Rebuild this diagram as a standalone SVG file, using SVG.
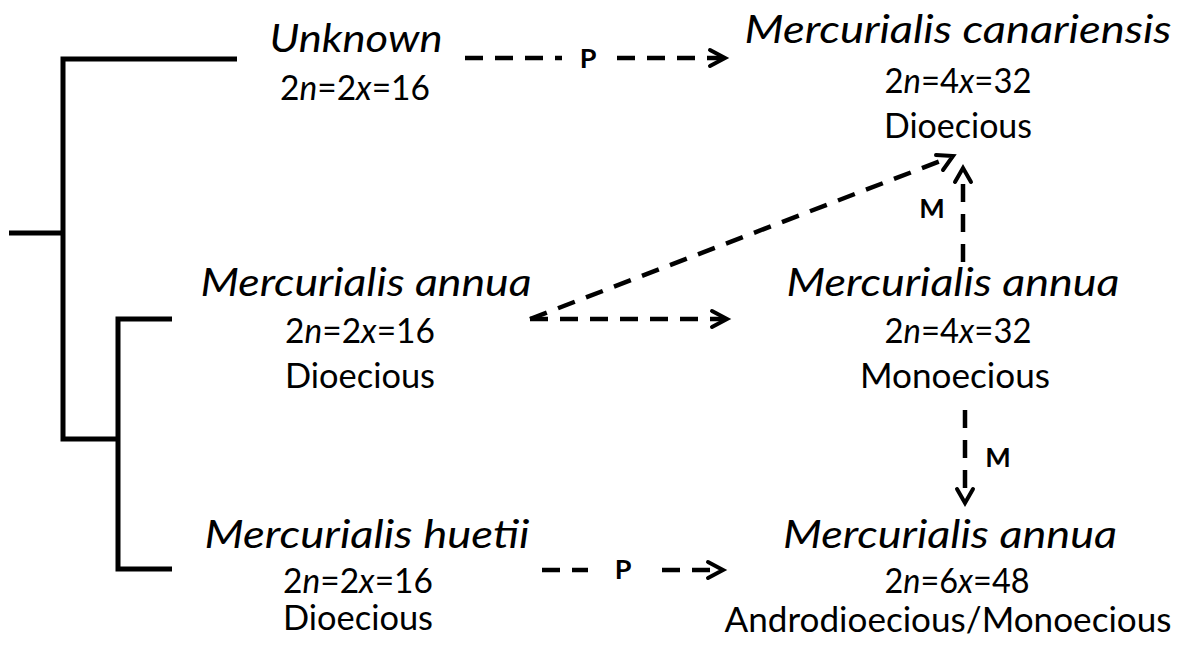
<svg xmlns="http://www.w3.org/2000/svg" width="1181" height="647" viewBox="0 0 1181 647">
<style>
.tree{fill:none;stroke:#000;stroke-width:5;stroke-linecap:butt;stroke-linejoin:miter}
.dash{fill:none;stroke:#000;stroke-width:4.5;stroke-dasharray:18 12}
.head{fill:none;stroke:#000;stroke-width:4;stroke-linecap:round;stroke-linejoin:miter}
text{font-family:Lato,"Liberation Sans",sans-serif;fill:#000;text-anchor:middle}
.sp{font-style:italic;font-size:38px}
.info{font-size:34px}
.lab{font-weight:bold;font-size:27px}
</style>
<rect width="1181" height="647" fill="#fff"/>
<g id="tree">
<path class="tree" d="M9 233H63M237 59H63V439H118M172 319H118V569H172"/>
</g>
<g id="connectors">
<path class="dash" d="M465 58H562"/>
<path class="dash" d="M617 58H723"/>
<path class="head" d="M710 50L725 58L710 66"/>
<text class="lab" x="588" y="68">P</text>
<path class="dash" d="M542 570H588"/>
<path class="dash" d="M662 570H721"/>
<path class="head" d="M708 562L723 570L708 578"/>
<text class="lab" x="623" y="579">P</text>
<path class="dash" d="M530 319H725"/>
<path class="head" d="M712 311L727 319L712 327"/>
<path class="dash" d="M530 319L951 157"/>
<path class="head" d="M936 155L953 156L943 170"/>
<path class="dash" d="M963 262V170"/>
<path class="head" d="M955 182L963 168L971 182"/>
<text class="lab" x="932" y="218">M</text>
<path class="dash" d="M965 410V501"/>
<path class="head" d="M957 489L965 503L973 489"/>
<text class="lab" x="998" y="467">M</text>
</g>
<g id="unknown">
<text class="sp" x="356" y="52" textLength="173" lengthAdjust="spacingAndGlyphs">Unknown</text>
<text class="info" x="355" y="100" textLength="150" lengthAdjust="spacingAndGlyphs">2<tspan font-style="italic">n</tspan>=2<tspan font-style="italic">x</tspan>=16</text>
</g>
<g id="annua-2x">
<text class="sp" x="366" y="296" textLength="331" lengthAdjust="spacingAndGlyphs">Mercurialis annua</text>
<text class="info" x="360" y="343" textLength="150" lengthAdjust="spacingAndGlyphs">2<tspan font-style="italic">n</tspan>=2<tspan font-style="italic">x</tspan>=16</text>
<text class="info" x="360" y="388" textLength="150" lengthAdjust="spacingAndGlyphs">Dioecious</text>
</g>
<g id="huetii">
<text class="sp" x="367" y="548" textLength="325" lengthAdjust="spacingAndGlyphs">Mercurialis huetii</text>
<text class="info" x="358" y="593" textLength="150" lengthAdjust="spacingAndGlyphs">2<tspan font-style="italic">n</tspan>=2<tspan font-style="italic">x</tspan>=16</text>
<text class="info" x="358" y="630" textLength="150" lengthAdjust="spacingAndGlyphs">Dioecious</text>
</g>
<g id="canariensis">
<text class="sp" x="958" y="43" textLength="427" lengthAdjust="spacingAndGlyphs">Mercurialis canariensis</text>
<text class="info" x="958" y="93" textLength="147" lengthAdjust="spacingAndGlyphs">2<tspan font-style="italic">n</tspan>=4<tspan font-style="italic">x</tspan>=32</text>
<text class="info" x="958" y="138" textLength="148" lengthAdjust="spacingAndGlyphs">Dioecious</text>
</g>
<g id="annua-4x">
<text class="sp" x="953" y="296" textLength="333" lengthAdjust="spacingAndGlyphs">Mercurialis annua</text>
<text class="info" x="958" y="343" textLength="147" lengthAdjust="spacingAndGlyphs">2<tspan font-style="italic">n</tspan>=4<tspan font-style="italic">x</tspan>=32</text>
<text class="info" x="955" y="388" textLength="190" lengthAdjust="spacingAndGlyphs">Monoecious</text>
</g>
<g id="annua-6x">
<text class="sp" x="950" y="548" textLength="334" lengthAdjust="spacingAndGlyphs">Mercurialis annua</text>
<text class="info" x="957" y="593" textLength="145" lengthAdjust="spacingAndGlyphs">2<tspan font-style="italic">n</tspan>=6<tspan font-style="italic">x</tspan>=48</text>
<text class="info" x="948" y="632" textLength="447" lengthAdjust="spacingAndGlyphs">Androdioecious/Monoecious</text>
</g>
</svg>
